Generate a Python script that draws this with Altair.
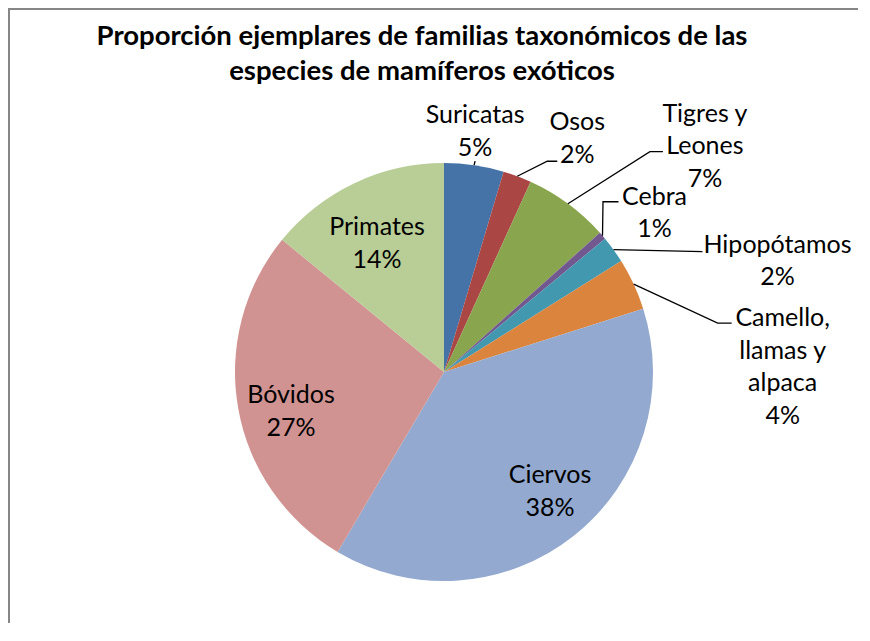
import math
import altair as alt
import pandas as pd

# ---------------- data ----------------
categories = ["Suricatas", "Osos", "Tigres y Leones", "Cebra", "Hipopótamos",
              "Camello, llamas y alpaca", "Ciervos", "Bóvidos", "Primates"]
values = [4.6, 2.2, 6.6, 0.6, 2.1, 4.0, 38.4, 27.4, 14.1]
label_lines = [["Suricatas"], ["Osos"], ["Tigres y", "Leones"], ["Cebra"],
               ["Hipopótamos"], ["Camello,", "llamas y", "alpaca"],
               ["Ciervos"], ["Bóvidos"], ["Primates"]]
colors = ["#4572A7", "#AA4643", "#89A54E", "#71588F", "#4198AF",
          "#DB843D", "#93A9CF", "#D19392", "#B9CD96"]
title_lines = ["Proporción ejemplares de familias taxonómicos de las",
               "especies de mamíferos exóticos"]

# ---------------- layout ----------------
W, H = 850, 615
CX, CY, R = 436, 364, 209
LH = 32.5
FONT = "Lato"
LABEL_SIZE = 25
TITLE_SIZE = 27.5
TITLE_X, TITLE_Y0, TITLE_LH = 414, 37, 35

# label placement: offsets from the slice's edge point (outside labels)
# or from the pie centre (inside labels); leader points relative to edge point
LAYOUT = {
    "Suricatas": {"ref": "edge", "label": (1, -42), "leader": [(1, -4)]},
    "Osos": {"ref": "edge", "label": (60, -46), "leader": [(30, -15), (40, -15)]},
    "Tigres y Leones": {"ref": "edge", "label": (137, -82), "leader": [(82, -52), (95, -52)]},
    "Cebra": {"ref": "edge", "label": (52, -31), "leader": [(0.5, -34), (16, -34)]},
    "Hipopótamos": {"ref": "edge", "label": (164, 3), "leader": [(89, 2)]},
    "Camello, llamas y alpaca": {"ref": "edge", "label": (149, 42), "leader": [(84, 39), (98, 39)]},
    "Ciervos": {"ref": "center", "label": (106, 111)},
    "Bóvidos": {"ref": "center", "label": (-153, 31)},
    "Primates": {"ref": "center", "label": (-67, -137)},
}

total = sum(values)
slices = pd.DataFrame({"cat": categories, "value": values, "idx": list(range(len(categories)))})

text_rows, leader_rows = [], []
cum = 0.0
for cat, v, lines in zip(categories, values, label_lines):
    mid = (cum + v / 2) / total * 2 * math.pi
    cum += v
    ex, ey = CX + R * math.sin(mid), CY - R * math.cos(mid)
    lay = LAYOUT[cat]
    bx, by = (ex, ey) if lay["ref"] == "edge" else (CX, CY)
    lx, ly = bx + lay["label"][0], by + lay["label"][1]
    all_lines = lines + [f"{round(v / total * 100)}%"]
    for i, t in enumerate(all_lines):
        text_rows.append({"x": lx, "y": ly + i * LH, "text": t})
    if "leader" in lay:
        pts = [(ex, ey)] + [(ex + dx, ey + dy) for dx, dy in lay["leader"]]
        for j, (px, py) in enumerate(pts):
            leader_rows.append({"cat": cat, "seq": j, "x": px, "y": py})

texts = pd.DataFrame(text_rows)
leaders = pd.DataFrame(leader_rows)
titles = pd.DataFrame({"text": title_lines,
                       "x": [TITLE_X] * len(title_lines),
                       "y": [TITLE_Y0 + i * TITLE_LH for i in range(len(title_lines))]})

xs = alt.Scale(domain=[0, W], nice=False, zero=False)
ys = alt.Scale(domain=[0, H], nice=False, zero=False, reverse=True)
X = alt.X("x:Q", scale=xs, axis=None)
Y = alt.Y("y:Q", scale=ys, axis=None)

# chart frame: thin filled bars for the left and top edges (no strokes)
one = pd.DataFrame({"k": [0]})
frame_left = alt.Chart(one).mark_rect(fill="#868686", strokeWidth=0).encode(
    x=alt.value(0), x2=alt.value(2), y=alt.value(0), y2=alt.value(H))
frame_top = alt.Chart(one).mark_rect(fill="#868686", strokeWidth=0).encode(
    x=alt.value(0), x2=alt.value(W), y=alt.value(0), y2=alt.value(2))

pie = alt.Chart(slices).mark_arc(radius=R).encode(
    theta=alt.Theta("value:Q", stack=True),
    color=alt.Color("cat:N", scale=alt.Scale(domain=categories, range=colors), legend=None),
    order=alt.Order("idx:Q"),
    x=alt.value(CX), y=alt.value(CY),
)

lead = alt.Chart(leaders).mark_line(color="#000000", strokeWidth=1.3).encode(
    x=X, y=Y, detail="cat:N", order="seq:Q")

labels = alt.Chart(texts).mark_text(
    font=FONT, fontSize=LABEL_SIZE, color="#000000", align="center", baseline="alphabetic"
).encode(x=X, y=Y, text="text:N")

title = alt.Chart(titles).mark_text(
    font=FONT, fontSize=TITLE_SIZE, fontWeight="bold", color="#000000",
    align="center", baseline="alphabetic"
).encode(x=X, y=Y, text="text:N")

chart = alt.layer(frame_left, frame_top, pie, lead, labels, title).properties(
    width=W, height=H, padding=0,
    autosize=alt.AutoSizeParams(type="none"),
).configure_view(stroke="transparent", strokeWidth=0)

chart.save("out.html", embed_options={"renderer": "svg", "actions": False})
